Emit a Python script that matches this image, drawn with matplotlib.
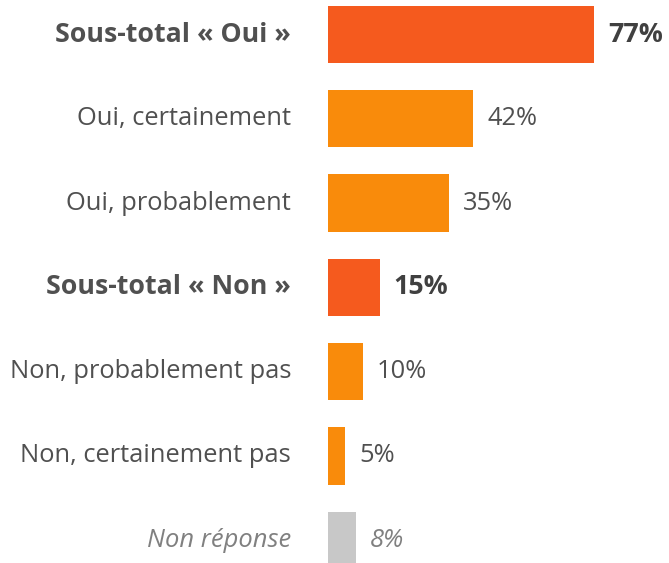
import matplotlib
matplotlib.use("Agg")
import matplotlib.pyplot as plt

categories = ["Sous-total « Oui »", "Oui, certainement", "Oui, probablement",
              "Sous-total « Non »", "Non, probablement pas", "Non, certainement pas",
              "Non réponse"]
values = [77, 42, 35, 15, 10, 5, 8]
kinds = ["total", "detail", "detail", "total", "detail", "detail", "nr"]

colors = {"total": "#F55A1E", "detail": "#F98B0B", "nr": "#C8C8C8"}
FONT = "Open Sans"

W, H = 669, 563
fig = plt.figure(figsize=(W / 100, H / 100), dpi=100)
x0 = 328
ppu = 3.455
ax = fig.add_axes([x0 / W, 0, 1 - x0 / W, 1])
ax.set_xlim(0, (W - x0) / ppu)
spacing = 84.3
top = 34.5
ax.set_ylim((H - top) / spacing, -top / spacing)
ax.axis("off")

ys = list(range(len(categories)))
ax.barh(ys, values, height=0.68, color=[colors[k] for k in kinds], edgecolor="none")

for y, cat, v, k in zip(ys, categories, values, kinds):
    if k == "total":
        lab_kw = dict(fontweight="bold", color="#505050", fontsize=19.3)
        val_kw = dict(fontweight="bold", color="#404040", fontsize=19.3)
    elif k == "detail":
        lab_kw = dict(color="#505050", fontsize=18.4)
        val_kw = dict(color="#505050", fontsize=18.4)
    else:
        lab_kw = dict(color="#808080", style="italic", fontsize=18.4)
        val_kw = dict(color="#808080", style="italic", fontsize=18.4)
    ax.annotate(cat, xy=(0, y), xytext=(-37, 0), textcoords="offset pixels",
                ha="right", va="center", family=FONT, **lab_kw)
    ax.annotate(f"{v}%", xy=(v, y), xytext=(14, 0), textcoords="offset pixels",
                ha="left", va="center", family=FONT, **val_kw)

fig.savefig("out.png", dpi=100)
